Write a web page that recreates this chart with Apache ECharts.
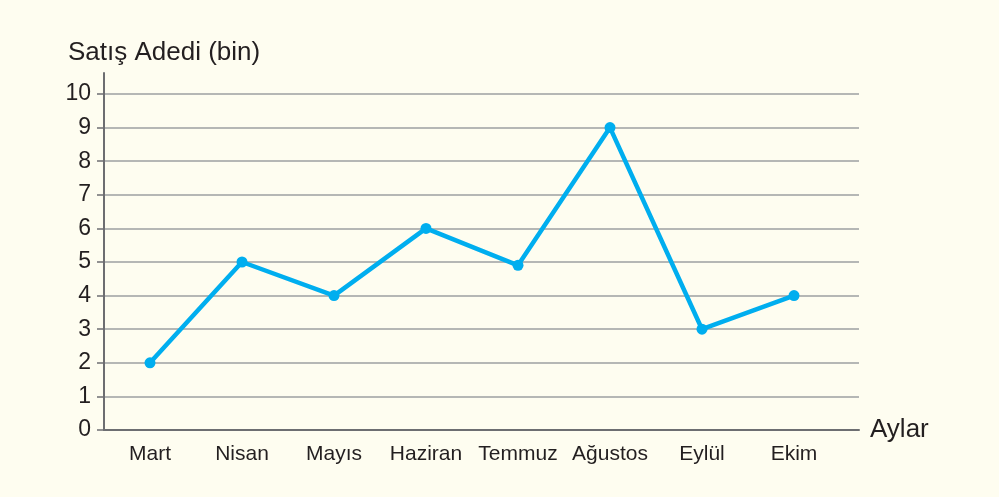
<!DOCTYPE html>
<html>
<head>
<meta charset="utf-8">
<script src="https://cdn.jsdelivr.net/npm/echarts@6/dist/echarts.min.js"></script>
<style>
html,body{margin:0;padding:0;background:#fefdf0;}
#c{width:999px;height:497px;}
</style>
</head>
<body>
<div id="c"></div>
<script>
const categories = ['Mart', 'Nisan', 'Mayıs', 'Haziran', 'Temmuz', 'Ağustos', 'Eylül', 'Ekim'];
const sales = [2, 5, 4, 6, 4.9, 9, 3, 4];
const yTicks = [0, 1, 2, 3, 4, 5, 6, 7, 8, 9, 10];

const FONT = '"Liberation Sans", Arial, sans-serif';
const TXT = '#231f20';
const chart = echarts.init(document.getElementById('c'));
chart.setOption({
  backgroundColor: '#fefdf0',
  animation: false,
  title: {
    text: 'Satış Adedi (bin)', left: 63, top: 35,
    textStyle: { fontFamily: FONT, fontSize: 26, fontWeight: 'normal', color: TXT }
  },
  grid: [
    { left: 104, right: 140, top: 73, bottom: 67 },
    { left: 104, right: 140, top: 94, bottom: 67 },
    { left: 104, right: 159, top: 94, bottom: 67 }
  ],
  xAxis: [
    { gridIndex: 0, type: 'value', show: false, min: 0, max: 1 },
    { gridIndex: 1, type: 'value', min: 0, max: 1,
      axisLine: { show: true, lineStyle: { color: '#6d6e71', width: 2 } },
      axisTick: { show: false }, axisLabel: { show: false }, splitLine: { show: false },
      name: 'Aylar', nameLocation: 'end', nameGap: 11,
      nameTextStyle: { fontFamily: FONT, fontSize: 26, color: TXT, verticalAlign: 'middle' } },
    { gridIndex: 2, type: 'category', data: categories, boundaryGap: true,
      axisLine: { show: false }, axisTick: { show: false }, splitLine: { show: false },
      axisLabel: { interval: 0, hideOverlap: false, fontFamily: FONT, fontSize: 21, color: TXT, margin: 14 } }
  ],
  yAxis: [
    { gridIndex: 0, type: 'value', min: 0, max: 1,
      axisLine: { show: true, lineStyle: { color: '#6d6e71', width: 2 } },
      axisTick: { show: false }, axisLabel: { show: false }, splitLine: { show: false } },
    { gridIndex: 1, type: 'value', min: yTicks[0], max: yTicks[yTicks.length - 1], interval: 1,
      axisLine: { show: false },
      axisTick: { show: true, length: 7, lineStyle: { color: '#6d6e71', width: 1.5 } },
      axisLabel: { fontFamily: FONT, fontSize: 23, color: TXT, margin: 13 },
      splitLine: { show: true, lineStyle: { color: '#9d9fa2', width: 1.5 } } },
    { gridIndex: 2, type: 'value', min: 0, max: 10, show: false }
  ],
  series: [{
    type: 'line', xAxisIndex: 2, yAxisIndex: 2, data: sales,
    symbol: 'circle', symbolSize: 11,
    lineStyle: { color: '#00aeef', width: 4.5 },
    itemStyle: { color: '#00aeef' },
    z: 5
  }]
});
</script>
</body>
</html>
